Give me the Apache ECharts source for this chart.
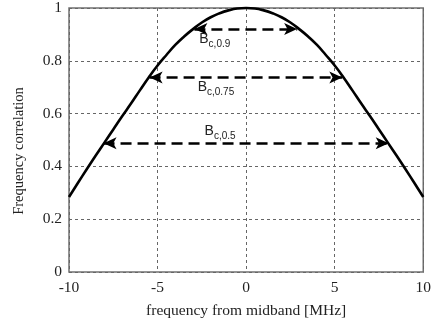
<!DOCTYPE html>
<html>
<head>
<meta charset="utf-8">
<script src="https://cdn.jsdelivr.net/npm/echarts@6/dist/echarts.min.js"></script>
<style>html,body{margin:0;padding:0;background:#fff}#c{width:434px;height:324px}</style>
</head>
<body>
<div id="c"></div>
<script>
// frequency from midband [MHz]
var freq = [-10,-9.5,-9,-8.5,-8,-7.5,-7,-6.5,-6,-5.5,-5,-4.5,-4,-3.5,-3,-2.5,-2,-1.5,-1,-0.5,0,0.5,1,1.5,2,2.5,3,3.5,4,4.5,5,5.5,6,6.5,7,7.5,8,8.5,9,9.5,10];
// frequency correlation
var corr = [0.284,0.337,0.389,0.44,0.49,0.54,0.59,0.638,0.688,0.737,0.782,0.822,0.86,0.892,0.92,0.945,0.965,0.98,0.991,0.998,1.0,0.998,0.991,0.98,0.965,0.945,0.92,0.892,0.86,0.822,0.782,0.737,0.688,0.638,0.59,0.54,0.49,0.44,0.389,0.337,0.284];
// coherence bandwidth arrows
var bandLevel = [0.92, 0.737, 0.488];
var bandLeft  = [-2.92, -5.45, -8.05];
var bandRight = [2.88, 5.43, 8.05];
var bandSub   = ['c,0.9', 'c,0.75', 'c,0.5'];
var xTicks = [-10, -5, 0, 5, 10];
var yTicks = [0, 0.2, 0.4, 0.6, 0.8, 1];

var labelPlace = [
  {position:'insideMiddleBottom', offset:[-31, -6]},
  {position:'insideMiddleBottom', offset:[-30, -6]},
  {position:'insideMiddleTop', offset:[-26, 0]}
];

var markData = bandLevel.map(function(v, i){
  return [
    {coord:[bandLeft[i], v], label:{
      show:true, position:labelPlace[i].position, offset:labelPlace[i].offset,
      formatter:'{b|B}{s|' + bandSub[i] + '}',
      rich:{
        b:{fontFamily:'Liberation Sans', fontSize:14, color:'#222', verticalAlign:'bottom', lineHeight:18},
        s:{fontFamily:'Liberation Sans', fontSize:10, color:'#222', verticalAlign:'bottom', lineHeight:12, padding:[0,0,-3,0]}
      }
    }},
    {coord:[bandRight[i], v]}
  ];
});

var chart = echarts.init(document.getElementById('c'), null, {renderer:'canvas'});
chart.setOption({
  animation:false,
  backgroundColor:'#fff',
  grid:{left:69, top:4, right:9, bottom:50, show:true, borderColor:'#707070', borderWidth:1.5},
  xAxis:{
    type:'value', min:xTicks[0], max:xTicks[xTicks.length-1], interval:5,
    name:'frequency from midband [MHz]', nameLocation:'middle', nameGap:31,
    nameTextStyle:{fontFamily:'Liberation Serif', fontSize:15.5, color:'#222'},
    axisLine:{show:false}, axisTick:{show:false},
    axisLabel:{fontFamily:'Liberation Serif', fontSize:15.5, color:'#222', margin:8},
    splitLine:{show:true, lineStyle:{color:'#666', type:[3,3], width:1}}
  },
  yAxis:{
    type:'value', min:yTicks[0], max:yTicks[yTicks.length-1], interval:0.2,
    name:'Frequency correlation', nameLocation:'middle', nameGap:42,
    nameTextStyle:{fontFamily:'Liberation Serif', fontSize:14.5, color:'#222', padding:[0,22,0,0]},
    axisLine:{show:false}, axisTick:{show:false},
    axisLabel:{fontFamily:'Liberation Serif', fontSize:15.5, color:'#222', margin:7},
    splitLine:{show:true, lineStyle:{color:'#666', type:[3,3], width:1}}
  },
  series:[{
    type:'line',
    data:freq.map(function(f,i){return [f, corr[i]];}),
    smooth:true, showSymbol:false, clip:false,
    lineStyle:{color:'#000', width:2.6},
    markLine:{
      silent:true, symbol:['arrow','arrow'], symbolSize:[9,13],
      lineStyle:{color:'#000', width:2.6, type:[11,6]},
      data:markData
    }
  }]
});
</script>
</body>
</html>
